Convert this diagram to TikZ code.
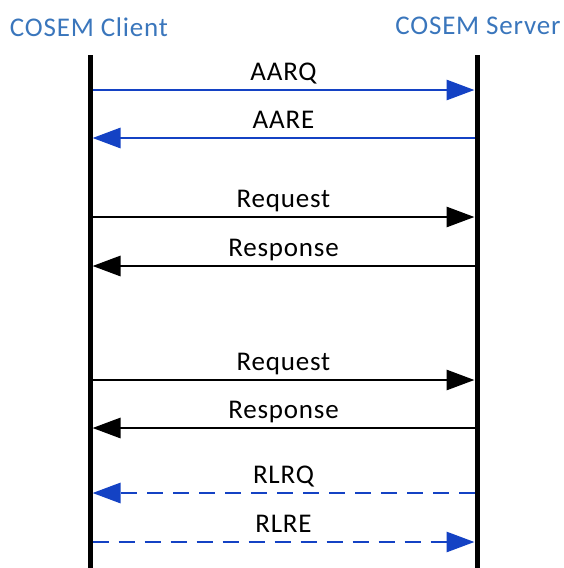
\documentclass[tikz,border=0pt]{standalone}
\usepackage{fontspec}
\setmainfont{Carlito}[LetterSpace=3]
\usetikzlibrary{arrows.meta,positioning,calc}
\definecolor{cosem}{RGB}{58,118,188}
\definecolor{assoc}{RGB}{20,66,196}
\tikzset{
  x=1pt,y=1pt,
  lifeline/.style={line width=5pt,draw=black},
  msg/.style={line width=2.9pt,draw=#1,-{Triangle[length=28pt,width=20pt]}},
  msg/.default=black,
  party/.style={text=cosem,font=\fontsize{27}{31}\selectfont,inner sep=0pt},
  lbl/.style={font=\fontsize{27}{31}\selectfont,inner sep=0pt,anchor=base},
  cut/.style={dash pattern=on 16pt off 10pt},
}

\begin{document}
\begin{tikzpicture}
    \useasboundingbox (0,0) rectangle (563,-568);
    \node[party] (client) at (89,-27) {COSEM Client};
    \node[party] (server) at (478,-26) {COSEM Server};
    \coordinate (ctop) at (90,-55);
    \coordinate (cbot) at (90,-568);
    \coordinate (stop) at (477,-55);
    \coordinate (sbot) at (477,-568);
    \draw[lifeline] (ctop) -- (cbot);
    \draw[lifeline] (stop) -- (sbot);
    \foreach \y/\t/\from/\to/\c/\ls in {
      90/AARQ/cl/sv/assoc/solid,
      138/AARE/sv/cl/assoc/solid,
      217/Request/cl/sv/black/solid,
      266/Response/sv/cl/black/solid,
      380/Request/cl/sv/black/solid,
      428/Response/sv/cl/black/solid,
      493/RLRQ/sv/cl/assoc/cut,
      542/RLRE/cl/sv/assoc/cut}
    {
      \coordinate (cl\y) at (92.5,-\y);
      \coordinate (sv\y) at (474.5,-\y);
      \draw[msg=\c,\ls] (\from\y) -- (\to\y);
      \node[lbl] (m\y) at ([yshift=10pt]$(cl\y)!0.5!(sv\y)$) {\t};
    }
\end{tikzpicture}
\end{document}
